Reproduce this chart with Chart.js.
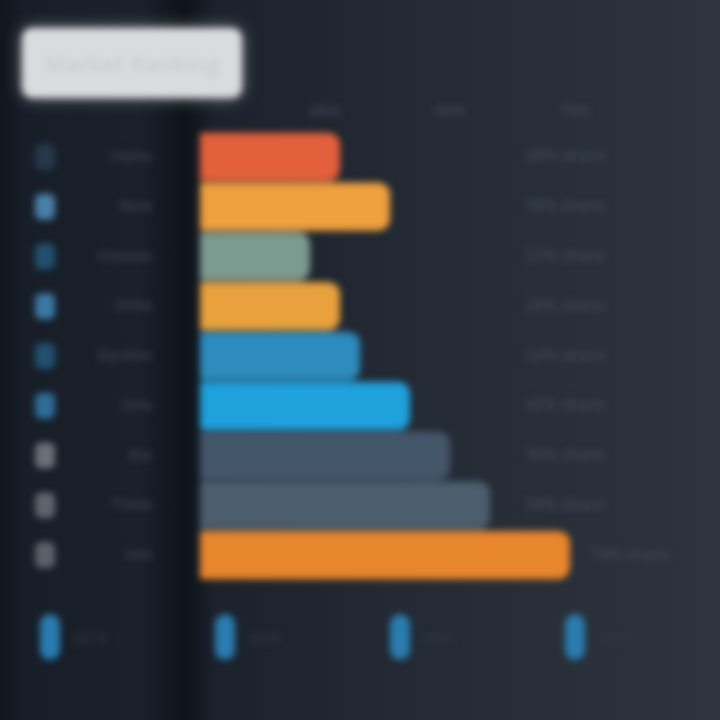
<!DOCTYPE html>
<html>
<head>
<meta charset="utf-8">
<script src="https://cdn.jsdelivr.net/npm/chart.js@4"></script>
<style>
    html, body { margin: 0; width: 720px; height: 720px; overflow: hidden; }
    body {
        position: relative;
        font-family: 'Open Sans', sans-serif;
        background: linear-gradient(90deg, #10161e 0px, #171e28 25px, #1a212b 140px, #0e131a 185px, #1b222c 215px, #242b35 430px, #2d343d 720px);
    }
    #wrap { position: absolute; left: 0; top: 0; width: 720px; height: 720px; filter: blur(3.5px); }
    #title {
        position: absolute; left: 22px; top: 28px; width: 220px; height: 70px;
        background: #d9dbde; border-radius: 10px;
        box-shadow: 0 0 16px rgba(215, 218, 222, 0.5);
        color: #cbced2; font-size: 22px; font-weight: 700; line-height: 70px; text-align: center;
    }
    #chart { position: absolute; left: 0; top: 0; }
    #footer { position: absolute; left: 0; top: 612px; width: 720px; height: 60px; }
    .item { position: absolute; top: 0; height: 50px; display: flex; align-items: center; gap: 12px; }
    .pill { width: 20px; height: 46px; border-radius: 10px; background: #2a7cb0; }
    .item span { color: #2f3845; font-size: 15px; font-weight: 600; }
</style>
</head>
<body>
<div id="wrap">
    <div id="title">Market Ranking</div>
    <canvas id="chart" width="720" height="720"></canvas>
    <div id="footer"></div>
</div>
<script>
// Dados
const categorias = ['Alpha', 'Beta', 'Gamma', 'Delta', 'Epsilon', 'Zeta', 'Eta', 'Theta', 'Iota'];
const valores = [28, 38, 22, 28, 32, 42, 50, 58, 74];
const ticksX = [25, 50, 75];
const rodape = ['2019', '2020', '2021', '2022'];

// Estilos
const coresBarras = ['#e4603c', '#efa03f', '#7d9a90', '#e8a13d', '#2d8bbd', '#1fa1dc', '#44566a', '#4c5d6e', '#e8862d'];
const coresIcones = ['#27384a', '#4a80a8', '#23506f', '#3c78a3', '#22506f', '#2f6d98', '#6b7077', '#5f656d', '#5b626a'];

function roundRect(ctx, x, y, w, h, r) {
    ctx.beginPath();
    ctx.moveTo(x + r, y);
    ctx.arcTo(x + w, y, x + w, y + h, r);
    ctx.arcTo(x + w, y + h, x, y + h, r);
    ctx.arcTo(x, y + h, x, y, r);
    ctx.arcTo(x, y, x + w, y, r);
    ctx.closePath();
}

const decoracao = {
    id: 'decoracao',
    afterDatasetsDraw(chart) {
        const { ctx, scales: { x, y } } = chart;
        ctx.save();
        categorias.forEach((cat, i) => {
            const py = y.getPixelForValue(i);
            ctx.fillStyle = coresIcones[i];
            roundRect(ctx, 35, py - 13, 20, 26, 6);
            ctx.fill();
            const fim = x.getPixelForValue(valores[i]);
            ctx.fillStyle = '#3e4855';
            ctx.font = '600 16px "Open Sans"';
            ctx.textBaseline = 'middle';
            ctx.fillText(valores[i] + '% share', Math.max(fim + 20, 525), py);
        });
        ctx.restore();
    }
};

const ctx = document.getElementById('chart');
new Chart(ctx, {
    type: 'bar',
    data: {
        labels: categorias,
        datasets: [{
            data: valores,
            backgroundColor: coresBarras,
            borderRadius: { topRight: 12, bottomRight: 12, topLeft: 2, bottomLeft: 2 },
            borderSkipped: false,
            barPercentage: 0.97,
            categoryPercentage: 1
        }]
    },
    options: {
        indexAxis: 'y',
        responsive: false,
        animation: false,
        layout: { padding: { top: 100, bottom: 140, right: 20 } },
        plugins: { legend: { display: false }, tooltip: { enabled: false } },
        scales: {
            x: {
                position: 'top',
                min: 0,
                max: 100,
                grid: { display: false },
                border: { display: false },
                afterBuildTicks: axis => { axis.ticks = ticksX.map(v => ({ value: v })); },
                ticks: { color: '#3d4652', font: { size: 15, weight: '600' }, callback: v => v + '%' }
            },
            y: {
                grid: { display: false },
                border: { display: false },
                afterFit: axis => { axis.width = 200; },
                ticks: { color: '#353e4a', font: { size: 15, weight: '600' }, padding: 40 }
            }
        }
    },
    plugins: [decoracao]
});

// Rodapé
const footer = document.getElementById('footer');
rodape.forEach((txt, i) => {
    const div = document.createElement('div');
    div.className = 'item';
    div.style.left = (40 + i * 175) + 'px';
    div.innerHTML = `<div class="pill"></div><span>${txt}</span>`;
    footer.appendChild(div);
});
</script>
</body>
</html>
